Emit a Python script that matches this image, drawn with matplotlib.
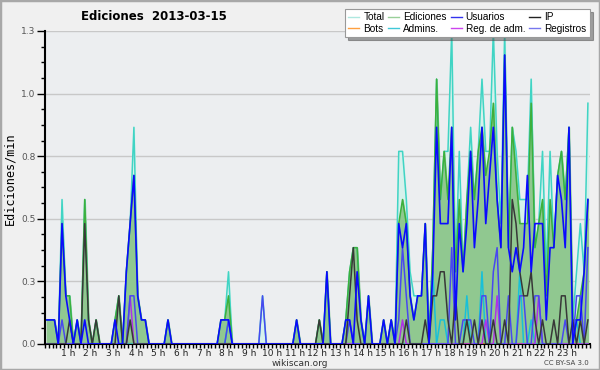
import matplotlib
matplotlib.use("Agg")
import matplotlib.pyplot as plt
import numpy as np
from matplotlib.lines import Line2D
from matplotlib.patches import Rectangle

# edits per 10-minute bin, 144 bins (two hours per row)
total = [
    1, 1, 1, 0, 6, 2,   2, 0, 1, 0, 6, 1,
    0, 1, 0, 0, 0, 0,   1, 2, 0, 3, 5, 9,
    2, 1, 1, 0, 0, 0,   0, 0, 1, 0, 0, 0,
    0, 0, 0, 0, 0, 0,   0, 0, 0, 0, 1, 1,
    3, 0, 0, 0, 0, 0,   0, 0, 0, 2, 0, 0,
    0, 0, 0, 0, 0, 0,   1, 0, 0, 0, 0, 0,
    1, 0, 3, 0, 0, 0,   0, 1, 3, 4, 4, 1,
    0, 2, 0, 0, 0, 1,   0, 1, 0, 8, 8, 6,
    3, 2, 2, 2, 5, 0,   4, 11, 6, 8, 8, 13,
    3, 8, 3, 6, 9, 6,   8, 11, 8, 8, 13, 8,
    5, 13, 4, 9, 8, 6,  6, 6, 11, 4, 5, 8,
    3, 8, 4, 7, 8, 6,   9, 1, 3, 5, 3, 10,
]
ediciones = [
    1, 1, 1, 0, 5, 2,   2, 0, 1, 0, 6, 1,
    0, 1, 0, 0, 0, 0,   1, 2, 0, 3, 5, 7,
    2, 1, 1, 0, 0, 0,   0, 0, 1, 0, 0, 0,
    0, 0, 0, 0, 0, 0,   0, 0, 0, 0, 1, 1,
    2, 0, 0, 0, 0, 0,   0, 0, 0, 0, 0, 0,
    0, 0, 0, 0, 0, 0,   1, 0, 0, 0, 0, 0,
    1, 0, 3, 0, 0, 0,   0, 1, 3, 4, 4, 1,
    0, 2, 0, 0, 0, 1,   0, 1, 0, 5, 6, 5,
    2, 1, 2, 2, 5, 0,   4, 11, 6, 8, 6, 9,
    3, 6, 3, 6, 8, 6,   8, 9, 7, 8, 10, 6,
    4, 12, 4, 9, 7, 5,  5, 5, 10, 4, 5, 6,
    2, 6, 4, 7, 8, 6,   9, 1, 1, 2, 3, 6,
]
usuarios = [
    1, 1, 1, 0, 5, 2,   1, 0, 1, 0, 1, 0,
    0, 0, 0, 0, 0, 0,   1, 0, 0, 3, 5, 7,
    2, 1, 1, 0, 0, 0,   0, 0, 1, 0, 0, 0,
    0, 0, 0, 0, 0, 0,   0, 0, 0, 0, 1, 1,
    1, 0, 0, 0, 0, 0,   0, 0, 0, 0, 0, 0,
    0, 0, 0, 0, 0, 0,   1, 0, 0, 0, 0, 0,
    0, 0, 3, 0, 0, 0,   0, 1, 1, 0, 3, 1,
    0, 2, 0, 0, 0, 1,   0, 1, 0, 5, 4, 5,
    2, 1, 2, 2, 5, 0,   3, 9, 5, 5, 5, 9,
    1, 5, 3, 5, 8, 4,   6, 9, 5, 7, 9, 6,
    4, 12, 4, 3, 4, 3,  4, 7, 3, 5, 5, 5,
    1, 4, 4, 7, 6, 4,   9, 0, 1, 1, 3, 6,
]
ip = [
    0, 0, 0, 0, 0, 0,   1, 0, 0, 0, 5, 1,
    0, 1, 0, 0, 0, 0,   0, 2, 0, 0, 1, 0,
    0, 0, 0, 0, 0, 0,   0, 0, 0, 0, 0, 0,
    0, 0, 0, 0, 0, 0,   0, 0, 0, 0, 0, 0,
    0, 0, 0, 0, 0, 0,   0, 0, 0, 0, 0, 0,
    0, 0, 0, 0, 0, 0,   0, 0, 0, 0, 0, 0,
    1, 0, 0, 0, 0, 0,   0, 0, 2, 4, 1, 0,
    0, 0, 0, 0, 0, 0,   0, 0, 0, 0, 0, 1,
    0, 0, 0, 0, 1, 0,   2, 2, 3, 3, 1, 0,
    2, 0, 0, 1, 0, 1,   0, 1, 0, 0, 1, 0,
    0, 1, 0, 6, 5, 3,   2, 2, 3, 1, 0, 1,
    0, 0, 1, 0, 2, 2,   0, 1, 0, 1, 0, 1,
]
registros = [
    0, 0, 0, 0, 1, 0,   0, 0, 0, 0, 0, 0,
    0, 0, 0, 0, 0, 0,   0, 0, 0, 0, 2, 2,
    0, 0, 0, 0, 0, 0,   0, 0, 0, 0, 0, 0,
    0, 0, 0, 0, 0, 0,   0, 0, 0, 0, 0, 0,
    1, 0, 0, 0, 0, 0,   0, 0, 0, 2, 0, 0,
    0, 0, 0, 0, 0, 0,   0, 0, 0, 0, 0, 0,
    0, 0, 0, 0, 0, 0,   0, 0, 1, 0, 0, 0,
    0, 0, 0, 0, 0, 0,   0, 0, 0, 1, 4, 2,
    0, 0, 0, 0, 0, 0,   0, 0, 0, 0, 0, 4,
    0, 0, 1, 1, 1, 0,   0, 2, 2, 0, 3, 4,
    0, 0, 2, 0, 0, 2,   2, 0, 0, 2, 2, 0,
    0, 0, 0, 0, 0, 1,   0, 0, 2, 2, 0, 4,
]
admins = [0] * 48 + [1] + [0] * 53 + [
    3, 0, 1, 1, 0, 0,   0, 0, 0, 2, 0, 0,
    0, 3, 0, 0, 0, 0,   0, 0, 0, 0, 0, 3,
    0, 0, 1, 0, 0, 0,   0, 0, 0, 0, 0, 0,
    0, 0, 1, 0, 0, 0,
]
reg_adm = [0] * 144
reg_adm[22] = 2
reg_adm[94] = 1
reg_adm[116] = 1
reg_adm[119] = 2
reg_adm[130] = 2
bots = [0] * 144

hours = list(range(1, 24))
hour_labels = [f"{h} h" for h in hours]

x = (np.arange(144) + 0.5) / 6.0
per_min = lambda s: np.array(s) / 10.0

fig = plt.figure(figsize=(6, 3.7), dpi=100, facecolor='#f0f0f0')
fig.patches.append(Rectangle((0, 0), 1, 1, transform=fig.transFigure,
                             fill=False, edgecolor='#a8a8a8', lw=2.5))
ax = fig.add_axes([0.075, 0.0703, 0.908, 0.846])
ax.set_facecolor('#eceef0')

ax.fill_between(x, per_min(total), color='#d6f1ec', zorder=1)
ax.fill_between(x, per_min(ediciones), color='#90c890', zorder=2)
ax.plot(x, per_min(total), color='#40d4c4', lw=1.1, zorder=3)
ax.plot(x, per_min(ediciones), color='#3cb03c', lw=1.1, zorder=3)
ax.plot(x, per_min(bots), color='#ff9930', lw=1.1, zorder=3)
ax.plot(x, per_min(admins), color='#18c0d8', lw=1.1, zorder=4)
ax.plot(x, per_min(reg_adm), color='#b030e8', lw=1.1, zorder=4)
ax.plot(x, per_min(registros), color='#4848f0', lw=1.1, zorder=4)
ax.plot(x, per_min(ip), color='#383838', lw=1.1, zorder=5)
ax.plot(x, per_min(usuarios), color='#0a0aff', lw=1.2, zorder=6)

ax.set_xlim(0, 24)
ax.set_ylim(0, 1.3)
ax.set_xticks(hours)
ax.set_xticklabels(hour_labels)
ax.set_xticks(np.arange(0, 24.01, 1 / 6), minor=True)
yt = np.arange(0, 1.31, 0.26)
ax.set_yticks(yt)
ax.set_yticklabels([f"{v:.1f}" for v in yt])
ax.set_yticks(np.arange(0, 1.301, 0.065), minor=True)
ax.grid(axis='y', color='#c8c8c8', lw=1)
ax.set_axisbelow(True)
ax.tick_params(axis='x', which='both', length=3, width=1, direction='out',
               labelsize=6.5, pad=0.5, colors='black', labelcolor='#222')
ax.tick_params(axis='y', which='major', length=6, width=1, labelsize=6.5,
               pad=1, labelcolor='#555')
ax.tick_params(axis='y', which='minor', length=3, width=1)
for s in ['top', 'right']:
    ax.spines[s].set_visible(False)
for s in ['left', 'bottom']:
    ax.spines[s].set_linewidth(1.5)

fig.text(154 / 600, 1 - 16 / 370, 'Ediciones  2013-03-15', ha='center',
         va='center', fontsize=8.5, fontweight='bold')
fig.text(10 / 600, 1 - 179 / 370, 'Ediciones/min', rotation=90, ha='center',
         va='center', fontsize=8.5, family='DejaVu Sans Mono')
fig.text(300 / 600, 1 - 363 / 370, 'wikiscan.org', ha='center', va='center',
         fontsize=6.5, color='#333')
fig.text(589 / 600, 1 - 363 / 370, 'CC BY-SA 3.0', ha='right', va='center',
         fontsize=5, color='#444')

names = ['Total', 'Bots', 'Ediciones', 'Admins.', 'Usuarios', 'Reg. de adm.',
         'IP', 'Registros']
cols = ['#aee8e0', '#ffa040', '#99d099', '#40c8d8', '#3333ee', '#cc44ee',
        '#222222', '#7777ee']
handles = [Line2D([], [], color=c, lw=1) for c in cols]
leg = fig.legend(handles, names, ncol=4, loc='upper right',
                 bbox_to_anchor=(590 / 600, 1 - 9 / 370),
                 prop={'family': 'Liberation Sans', 'size': 7.2},
                 frameon=True, shadow=True, fancybox=False, framealpha=1,
                 edgecolor='#999', handlelength=1.1, handletextpad=0.4,
                 columnspacing=0.4, borderpad=0.35, labelspacing=0.1,
                 borderaxespad=0)
leg.get_frame().set_linewidth(0.8)

fig.savefig('out.png', dpi=100, facecolor=fig.get_facecolor())
